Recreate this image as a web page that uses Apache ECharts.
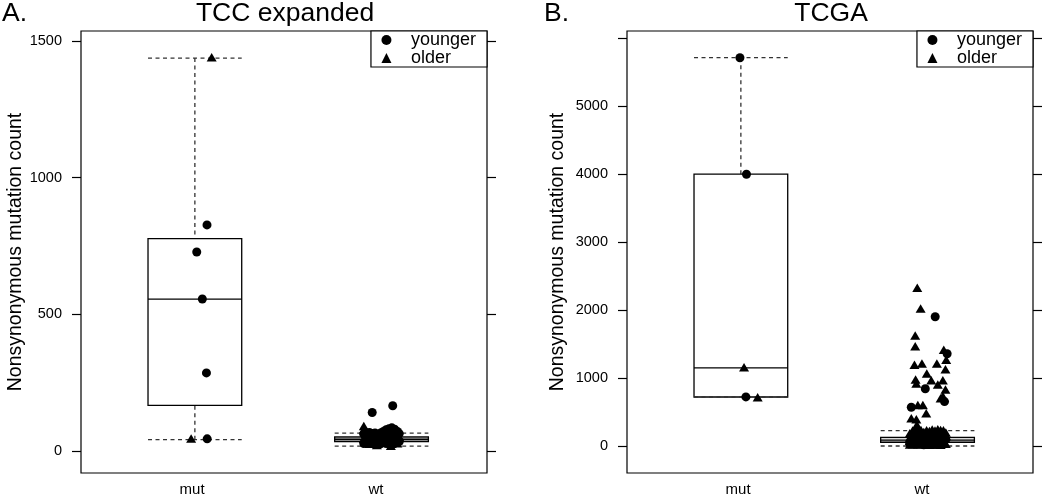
<!DOCTYPE html>
<html><head><meta charset="utf-8">
<script src="https://cdn.jsdelivr.net/npm/echarts@6/dist/echarts.min.js"></script>
<style>html,body{margin:0;padding:0;background:#fff}#c{width:1050px;height:497px}</style>
</head><body><div id="c"></div>
<script>
// ---------- data ----------
const groups = ['mut', 'wt'];
const groupLabelPos = [0.985, 1.97];
// boxes: [position, lowWhisker, q1, median, q3, highWhisker]
const boxesA = [[1, 42, 167, 556, 777, 1437], [2, 18, 35, 43, 52, 66]];
const boxesB = [[1, 724, 724, 1152, 4004, 5715], [2, 3, 58, 90, 131, 229]];
const tickLabelsA = [0, 500, 1000, 1500];
const tickMarksA = [0, 500, 1000, 1500];
const tickLabelsB = [0, 1000, 2000, 3000, 4000, 5000];
const tickMarksB = [0, 1000, 2000, 3000, 4000, 5000, 6000];

// panel A points [x, value]
const youngerA = [
  [1.065, 827], [1.01, 728], [1.04, 556], [1.062, 286], [1.066, 45],
  [1.95, 141], [2.06, 166],
  [1.905, 28], [1.905, 62], [1.92, 30], [1.92, 66], [1.935, 42], [1.935, 68], [1.95, 32], [1.95, 64],
  [1.965, 44], [1.965, 66], [1.98, 35], [1.98, 63], [1.995, 27], [1.995, 56], [1.995, 66], [2.01, 47],
  [2.01, 72], [2.025, 28], [2.025, 60], [2.025, 78], [2.04, 50], [2.04, 82], [2.055, 42], [2.055, 75],
  [2.055, 85], [2.07, 32], [2.07, 65], [2.07, 80], [2.085, 45], [2.085, 72], [2.095, 35], [2.095, 64],
  [1.96, 55], [2.0, 38], [2.03, 36], [2.06, 52], [2.08, 58], [1.94, 52], [1.915, 50], [2.045, 30]
];
const olderA = [
  [1.09, 1440], [0.98, 46],
  [1.905, 92], [1.905, 45], [1.905, 80], [1.92, 48], [1.935, 27], [1.935, 58], [1.95, 50], [1.965, 28],
  [1.965, 60], [1.98, 52], [1.995, 40], [2.01, 31], [2.01, 62], [2.025, 44], [2.04, 34], [2.04, 68],
  [2.055, 27], [2.055, 58], [2.07, 48], [2.085, 29], [2.085, 60], [2.095, 52], [1.975, 22], [2.05, 20]
];
// panel B points [x, value]
const youngerB = [
  [0.995, 5715], [1.03, 4000], [1.027, 725],
  [2.041, 1905], [2.105, 1360], [1.988, 845], [2.091, 656], [1.913, 573],
  [1.905, 40], [1.92, 110], [1.935, 30], [1.95, 150], [1.965, 60], [1.98, 20], [1.995, 120], [2.01, 45],
  [2.025, 90], [2.04, 25], [2.055, 140], [2.07, 55], [2.085, 30], [2.098, 100], [1.945, 80], [2.03, 170]
];
const olderB = [
  [1.017, 1160], [1.09, 720],
  [1.945, 2332], [1.963, 2026], [1.934, 1628], [1.934, 1472], [2.087, 1419], [2.100, 1273], [1.930, 1200],
  [1.970, 1215], [2.050, 1215], [2.096, 1132], [1.996, 1069], [2.020, 972], [1.936, 981], [1.940, 923],
  [2.082, 972], [2.055, 908], [2.096, 836], [2.082, 739], [2.070, 704], [1.948, 607], [1.975, 607],
  [1.993, 486], [1.913, 413], [1.940, 398], [1.943, 316],
  [1.905, 25], [1.905, 80], [1.905, 130], [1.905, 190],
  [1.92, 30], [1.92, 75], [1.92, 160], [1.92, 230],
  [1.935, 60], [1.935, 110], [1.935, 170], [1.935, 250],
  [1.95, 30], [1.95, 95], [1.95, 180], [1.95, 220],
  [1.965, 25], [1.965, 105], [1.965, 165], [1.965, 240],
  [1.98, 65], [1.98, 115], [1.98, 160], [1.98, 210],
  [1.995, 30], [1.995, 75], [1.995, 175], [1.995, 235],
  [2.01, 20], [2.01, 95], [2.01, 150], [2.01, 225],
  [2.025, 40], [2.025, 130], [2.025, 185], [2.025, 245],
  [2.04, 70], [2.04, 120], [2.04, 165], [2.04, 230],
  [2.055, 30], [2.055, 85], [2.055, 195], [2.055, 250],
  [2.07, 20], [2.07, 110], [2.07, 160], [2.07, 240],
  [2.085, 70], [2.085, 125], [2.085, 180], [2.085, 235],
  [2.098, 35], [2.098, 150], [2.098, 200]
];

// ---------- styles ----------
const FONT = 'Liberation Sans, Arial, Helvetica, sans-serif';
const BOX_HALF = 0.251;
const fillsA = ['#ffffff', '#8a8a8a'];
const fillsB = ['#ffffff', '#d8d8d8'];

function boxRender(fills) {
  return function (params, api) {
    const x = api.value(0), lo = api.value(1), q1 = api.value(2), md = api.value(3), q3 = api.value(4), hi = api.value(5);
    const pTL = api.coord([x - BOX_HALF, q3]);
    const pBR = api.coord([x + BOX_HALF, q1]);
    const pMd = api.coord([x, md]);
    const pLo = api.coord([x, lo]);
    const pHi = api.coord([x, hi]);
    const xl = pTL[0], xr = pBR[0];
    const dash = { stroke: '#333', lineWidth: 1.3, lineDash: [4, 3.5], fill: null };
    const solid = { stroke: '#000', lineWidth: 1.3, fill: null };
    return {
      type: 'group', children: [
        { type: 'line', shape: { x1: pHi[0], y1: pHi[1], x2: pHi[0], y2: pTL[1] }, style: dash },
        { type: 'line', shape: { x1: pLo[0], y1: pLo[1], x2: pLo[0], y2: pBR[1] }, style: dash },
        { type: 'rect', shape: { x: xl, y: pTL[1], width: xr - xl, height: pBR[1] - pTL[1] }, style: { fill: fills[params.dataIndex], stroke: '#000', lineWidth: 1.3 } },
        { type: 'line', shape: { x1: xl, y1: pMd[1], x2: xr, y2: pMd[1] }, style: solid },
        { type: 'line', shape: { x1: xl, y1: pHi[1], x2: xr, y2: pHi[1] }, style: dash },
        { type: 'line', shape: { x1: xl, y1: pLo[1], x2: xr, y2: pLo[1] }, style: dash }
      ]
    };
  };
}

function xAxisFor(gi) {
  return {
    type: 'value', gridIndex: gi, min: 0.39, max: 2.565,
    axisLine: { show: false }, axisTick: { show: false }, splitLine: { show: false },
    axisLabel: {
      customValues: groupLabelPos, margin: 9, fontSize: 15, color: '#000', fontFamily: FONT,
      formatter: v => groups[groupLabelPos.findIndex(p => Math.abs(p - v) < 1e-6)] || ''
    }
  };
}
function yAxesFor(gi, min, max, labels, marks, nameGap) {
  const common = {
    type: 'value', gridIndex: gi, min: min, max: max,
    axisLine: { show: false }, splitLine: { show: false },
    axisTick: { show: true, inside: false, length: 9, customValues: marks, lineStyle: { color: '#000', width: 1.2 } }
  };
  return [
    Object.assign({}, common, {
      position: 'left',
      name: 'Nonsynonymous mutation count', nameLocation: 'middle', nameRotate: 90, nameGap: nameGap,
      nameTextStyle: { fontSize: 19.5, color: '#000', fontFamily: FONT },
      axisLabel: { customValues: labels, margin: 19, fontSize: 14.5, color: '#000', fontFamily: FONT, formatter: v => String(v) }
    }),
    Object.assign({}, common, { position: 'right', axisLabel: { show: false } })
  ];
}
function legendFor(right) {
  return {
    data: ['younger', 'older'], orient: 'vertical', right: right, top: 31,
    padding: [0, 11, 0, 10.5], itemGap: 0, itemWidth: 10, itemHeight: 10,
    borderColor: '#000', borderWidth: 1.2, borderRadius: 0, backgroundColor: '#fff',
    selectedMode: false, align: 'left',
    textStyle: { fontSize: 18, lineHeight: 17, color: '#000', fontFamily: FONT, padding: [0, 0, 0, 14.5] }
  };
}
const yA = yAxesFor(0, -80, 1536, tickLabelsA, tickMarksA, 51);
const yB = yAxesFor(1, -394, 6108, tickLabelsB, tickMarksB, 59);
const titleStyle = { fontSize: 26.5, fontWeight: 'normal', color: '#000', fontFamily: FONT };

const option = {
  animation: false,
  backgroundColor: '#fff',
  textStyle: { fontFamily: FONT },
  title: [
    { text: 'TCC expanded', left: 285, top: 0, textAlign: 'center', padding: 0, textStyle: titleStyle },
    { text: 'A.', left: 2, top: 0, padding: 0, textStyle: titleStyle },
    { text: 'TCGA', left: 831, top: 0, textAlign: 'center', padding: 0, textStyle: titleStyle },
    { text: 'B.', left: 544, top: 0, padding: 0, textStyle: titleStyle }
  ],
  legend: [legendFor(563), legendFor(17)],
  grid: [
    { left: 81, top: 31, width: 406, bottom: 20, show: true, borderColor: '#000', borderWidth: 1.2, backgroundColor: 'transparent' },
    { left: 627, top: 31, width: 406, bottom: 20, show: true, borderColor: '#000', borderWidth: 1.2, backgroundColor: 'transparent' }
  ],
  xAxis: [xAxisFor(0), xAxisFor(1)],
  yAxis: [yA[0], yA[1], yB[0], yB[1]],
  series: [
    { type: 'custom', xAxisIndex: 0, yAxisIndex: 0, renderItem: boxRender(fillsA), data: boxesA, encode: { x: 0, y: [1, 2, 3, 4, 5] }, silent: true, z: 1 },
    { type: 'custom', xAxisIndex: 1, yAxisIndex: 2, renderItem: boxRender(fillsB), data: boxesB, encode: { x: 0, y: [1, 2, 3, 4, 5] }, silent: true, z: 1 },
    { name: 'younger', type: 'scatter', xAxisIndex: 0, yAxisIndex: 0, data: youngerA, symbol: 'circle', symbolSize: 9, itemStyle: { color: '#000', opacity: 1 }, z: 3, silent: true },
    { name: 'older', type: 'scatter', xAxisIndex: 0, yAxisIndex: 0, data: olderA, symbol: 'triangle', symbolSize: [10, 8.5], itemStyle: { color: '#000', opacity: 1 }, z: 3, silent: true },
    { name: 'younger', type: 'scatter', xAxisIndex: 1, yAxisIndex: 2, data: youngerB, symbol: 'circle', symbolSize: 9, itemStyle: { color: '#000', opacity: 1 }, z: 3, silent: true },
    { name: 'older', type: 'scatter', xAxisIndex: 1, yAxisIndex: 2, data: olderB, symbol: 'triangle', symbolSize: [10, 8.5], itemStyle: { color: '#000', opacity: 1 }, z: 3, silent: true }
  ]
};
const chart = echarts.init(document.getElementById('c'), null, { renderer: 'canvas' });
chart.setOption(option);
</script>
</body></html>
